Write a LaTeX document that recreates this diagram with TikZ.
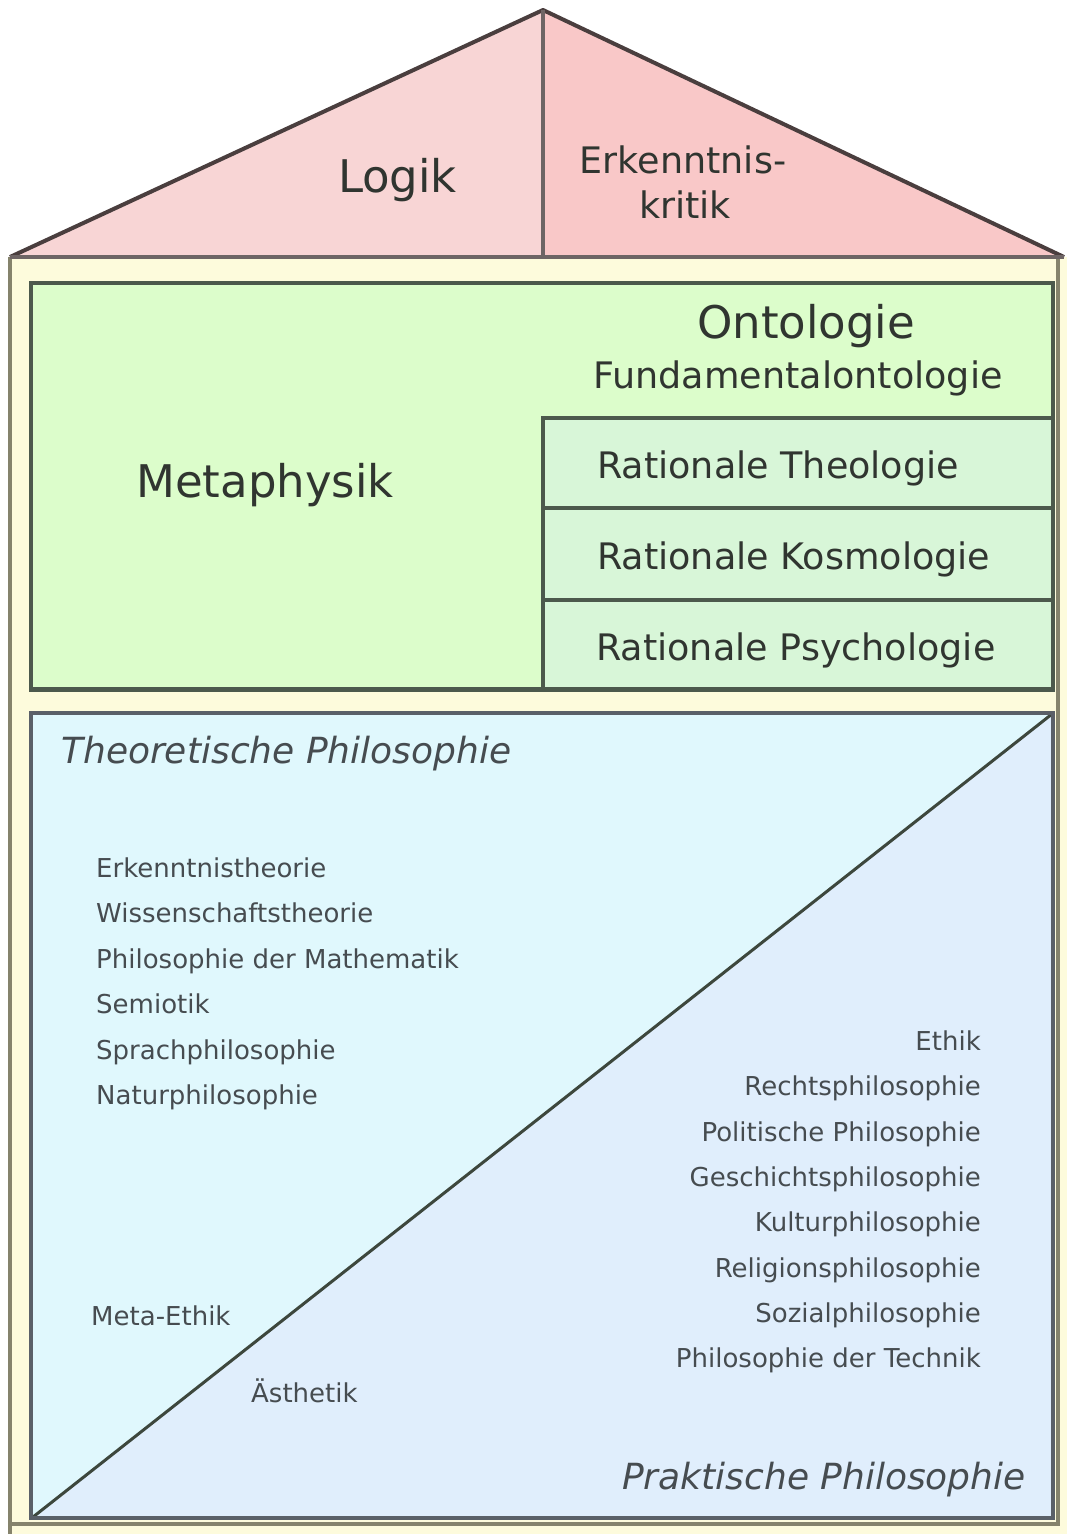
\documentclass[tikz,border=0pt]{standalone}
\usepackage{fontspec}
\setmainfont{DejaVu Sans}
\definecolor{cream}{HTML}{FDFBDC}
\definecolor{olivel}{HTML}{85836C}
\definecolor{greenfill}{HTML}{DCFDCB}
\definecolor{subfill}{HTML}{D8F6D8}
\definecolor{greenline}{HTML}{4C594C}
\definecolor{blueA}{HTML}{E0F8FD}
\definecolor{blueB}{HTML}{E0EEFC}
\definecolor{blueline}{HTML}{5A6068}
\definecolor{roofA}{HTML}{F8D5D5}
\definecolor{roofB}{HTML}{F9C8C8}
\definecolor{roofline}{HTML}{4A3E3E}
\definecolor{txtdark}{HTML}{303530}
\definecolor{txtgrey}{HTML}{464C50}
\begin{document}
\begin{tikzpicture}[x=1pt,y=-1pt,
  bigtxt/.style={inner sep=0pt,text=txtdark,font=\fontsize{45}{54}\selectfont},
  midtxt/.style={inner sep=0pt,text=txtdark,font=\fontsize{36.5}{44}\selectfont},
  ittxt/.style={inner sep=0pt,text=txtgrey,font=\fontsize{36}{44}\selectfont\itshape},
  smalltxt/.style={inner sep=0pt,text=txtgrey,font=\fontsize{26}{32}\selectfont},
  boxline/.style={draw=greenline,line width=4.5pt,line join=miter},
  roofstroke/.style={draw=roofline,line width=4pt,line join=round}]
\useasboundingbox (0,0) rectangle (1067,1534);
\clip (0,0) rectangle (1067,1534);
% house frame
\fill[cream] (10,257) rectangle (1067,1534);
\draw[olivel,line width=4pt] (10,257) -- (10,1534);
\draw[olivel,line width=4pt] (1058,257) -- (1058,1526);
\draw[olivel,line width=4pt] (10,1524) -- (1060,1524);
% roof
\fill[roofA] (10,257) -- (543,10) -- (543,257) -- cycle;
\fill[roofB] (543,10) -- (1064,257) -- (543,257) -- cycle;
\draw[roofstroke] (10,257) -- (543,10) -- (1064,257);
\draw[draw=roofline!80,line width=4pt] (10,257) -- (1064,257);
\draw[draw=roofline!80,line width=4pt] (543,10) -- (543,257);
% metaphysik box
\filldraw[fill=greenfill,boxline] (31,283) rectangle (1053,689.5);
\filldraw[fill=subfill,boxline] (543,418) rectangle (1053,508);
\filldraw[fill=subfill,boxline] (543,508) rectangle (1053,600);
\filldraw[fill=subfill,boxline] (543,600) rectangle (1053,689.5);
% philosophy box
\fill[blueA] (31,713) -- (1053,713) -- (31,1518) -- cycle;
\fill[blueB] (1053,713) -- (1053,1518) -- (31,1518) -- cycle;
\draw[draw=greenline!80!black,line width=3pt] (33,1517) -- (1052,714);
\draw[draw=blueline,line width=4.5pt,line join=miter] (31,713) rectangle (1053,1518);
% roof texts
\node[midtxt,anchor=base] (logik) at (397.5,192) {\fontsize{45}{54}\selectfont Logik};
\node[midtxt,anchor=base] (erk1) at (683,173) {Erkenntnis-};
\node[midtxt,anchor=base] (erk2) at (685,218) {kritik};
% metaphysik texts
\node[bigtxt,anchor=base] (meta) at (265,497) {Metaphysik};
\node[bigtxt,anchor=base] (onto) at (806,338) {Ontologie};
\node[midtxt,anchor=base] (fund) at (798,388) {Fundamentalontologie};
\node[midtxt,anchor=base west] (theo) at (597,478) {Rationale Theologie};
\node[midtxt,anchor=base west] (kosmo) at (597,569) {Rationale Kosmologie};
\node[midtxt,anchor=base west] (psycho) at (596,660) {Rationale Psychologie};
% theoretische
\node[ittxt,anchor=base west] (theor) at (61,763) {Theoretische Philosophie};
\node[smalltxt,anchor=base west] (l1) at (96,877) {Erkenntnistheorie};
\node[smalltxt,anchor=base west] (l2) at (96,922.5) {Wissenschaftstheorie};
\node[smalltxt,anchor=base west] (l3) at (96,968) {Philosophie der Mathematik};
\node[smalltxt,anchor=base west] (l4) at (96,1013.5) {Semiotik};
\node[smalltxt,anchor=base west] (l5) at (96,1059) {Sprachphilosophie};
\node[smalltxt,anchor=base west] (l6) at (96,1104.5) {Naturphilosophie};
\node[smalltxt,anchor=base west] (metaethik) at (91,1325) {Meta-Ethik};
\node[smalltxt,anchor=base west] (aesth) at (251,1402) {Ästhetik};
% praktische
\node[smalltxt,anchor=base east] (r1) at (981,1050) {Ethik};
\node[smalltxt,anchor=base east] (r2) at (981,1095) {Rechtsphilosophie};
\node[smalltxt,anchor=base east] (r3) at (981,1141) {Politische Philosophie};
\node[smalltxt,anchor=base east] (r4) at (981,1186) {Geschichtsphilosophie};
\node[smalltxt,anchor=base east] (r5) at (981,1231) {Kulturphilosophie};
\node[smalltxt,anchor=base east] (r6) at (981,1277) {Religionsphilosophie};
\node[smalltxt,anchor=base east] (r7) at (981,1322) {Sozialphilosophie};
\node[smalltxt,anchor=base east] (r8) at (981,1367) {Philosophie der Technik};
\node[ittxt,anchor=base east] (prakt) at (1026,1489) {Praktische Philosophie};
\end{tikzpicture}
\end{document}
